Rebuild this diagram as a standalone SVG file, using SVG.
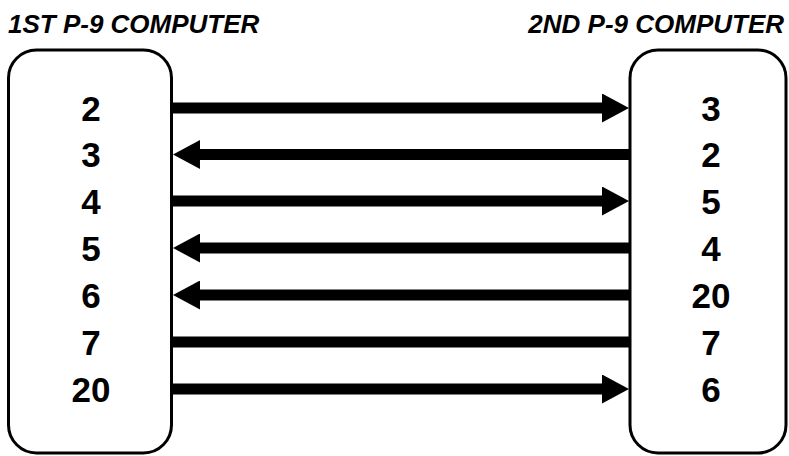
<svg xmlns="http://www.w3.org/2000/svg" width="789" height="456" viewBox="0 0 789 456">
<style>
.title{font-family:"Liberation Sans",Arial,sans-serif;font-weight:bold;font-style:italic;font-size:26px;fill:#000}
.num{font-family:"Liberation Sans",Arial,sans-serif;font-weight:bold;font-size:35px;fill:#000;text-anchor:middle}
.box{fill:#fff;stroke:#000;stroke-width:3}
.wire{stroke:#000;stroke-width:11;fill:none}
</style>
<defs>
<marker id="ah" markerUnits="userSpaceOnUse" viewBox="0 0 27 29" refX="0" refY="14.5" markerWidth="27" markerHeight="29" orient="auto">
<path d="M0,0 L27,14.5 L0,29 Z" fill="#000"/>
</marker>
</defs>
<text class="title" x="8" y="33">1ST P-9 COMPUTER</text>
<text class="title" x="784" y="33" text-anchor="end">2ND P-9 COMPUTER</text>
<g id="computer1">
<rect class="box" x="8.5" y="50" width="163" height="403" rx="28" ry="28"/>
<text class="num" x="91" y="120.5">2</text>
<text class="num" x="91" y="167">3</text>
<text class="num" x="91" y="213.5">4</text>
<text class="num" x="91" y="260.5">5</text>
<text class="num" x="91" y="307.5">6</text>
<text class="num" x="91" y="354.5">7</text>
<text class="num" x="91" y="401.5">20</text>
</g>
<g id="computer2">
<rect class="box" x="630" y="50" width="156" height="403" rx="28" ry="28"/>
<text class="num" x="711" y="120.5">3</text>
<text class="num" x="711" y="167">2</text>
<text class="num" x="711" y="213.5">5</text>
<text class="num" x="711" y="260.5">4</text>
<text class="num" x="711" y="307.5">20</text>
<text class="num" x="711" y="354.5">7</text>
<text class="num" x="711" y="401.5">6</text>
</g>
<g id="connectors">
<line class="wire" x1="172" y1="108" x2="602" y2="108" marker-end="url(#ah)"/>
<line class="wire" x1="630" y1="154.5" x2="200" y2="154.5" marker-end="url(#ah)"/>
<line class="wire" x1="172" y1="201" x2="602" y2="201" marker-end="url(#ah)"/>
<line class="wire" x1="630" y1="248" x2="200" y2="248" marker-end="url(#ah)"/>
<line class="wire" x1="630" y1="295" x2="200" y2="295" marker-end="url(#ah)"/>
<line class="wire" x1="172" y1="342" x2="630" y2="342"/>
<line class="wire" x1="172" y1="389" x2="602" y2="389" marker-end="url(#ah)"/>
</g>
</svg>
